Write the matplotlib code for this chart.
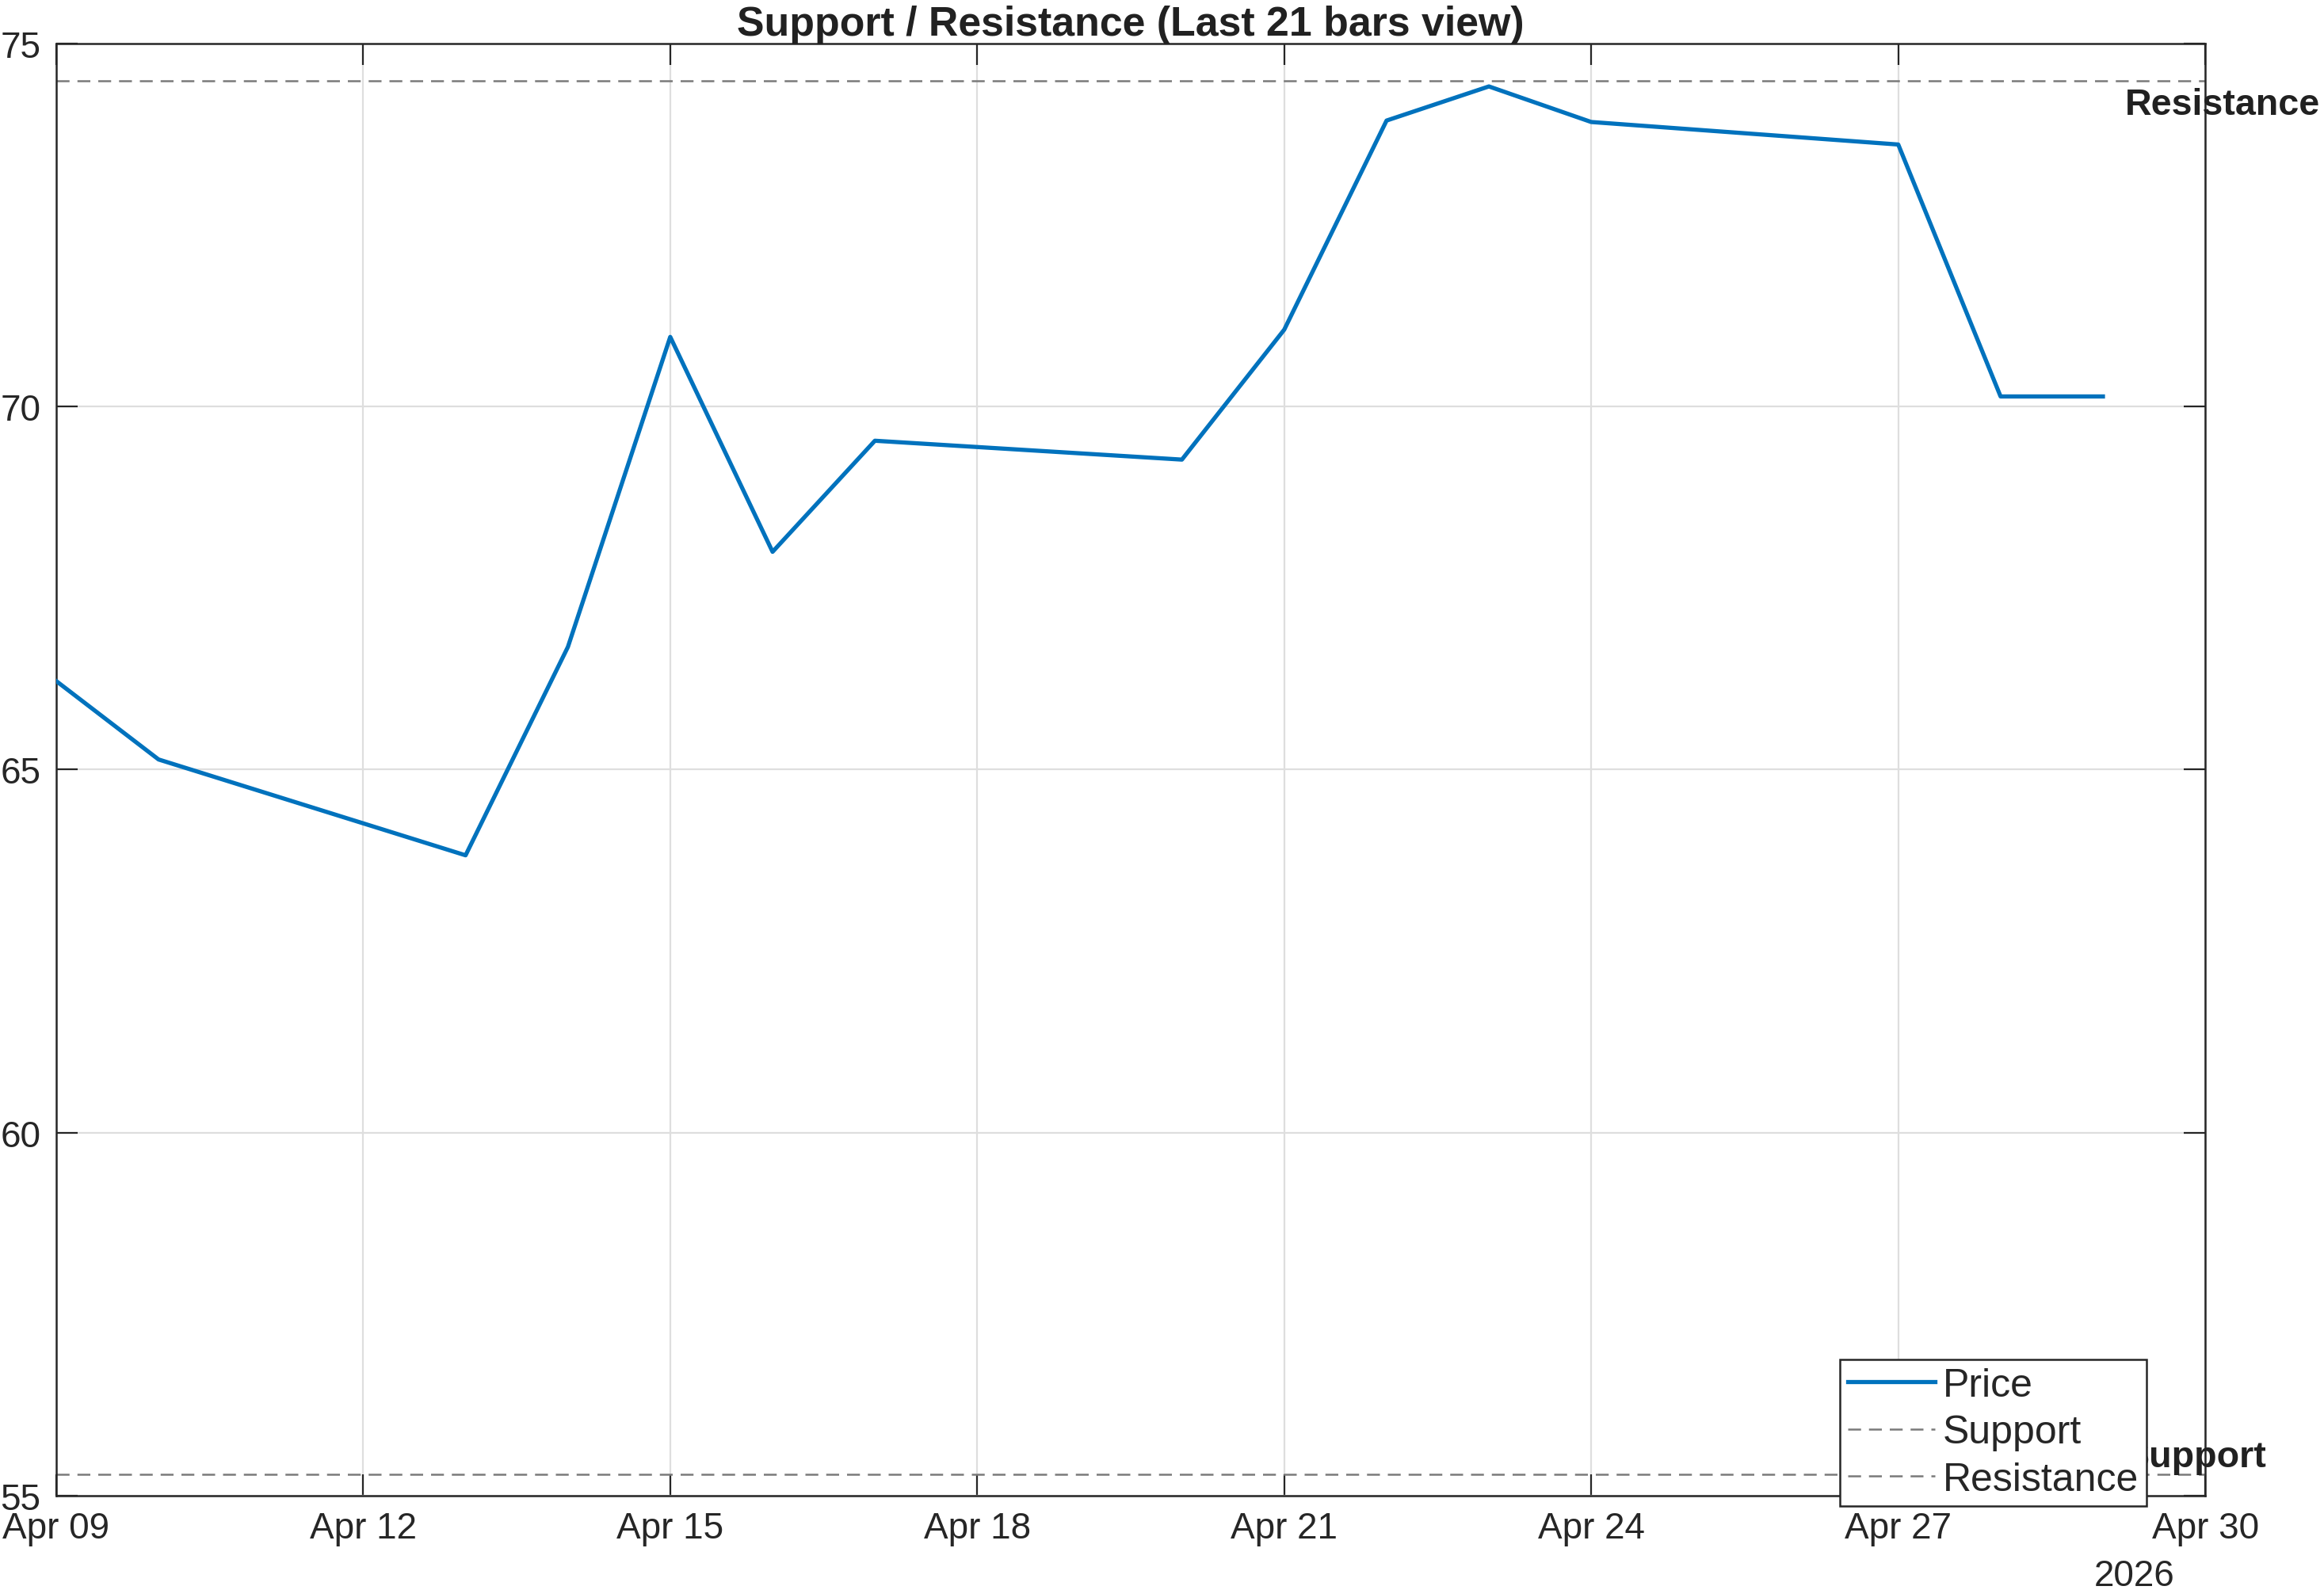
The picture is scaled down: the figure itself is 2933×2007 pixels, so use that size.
import numpy as np
import pandas as pd
import matplotlib
matplotlib.use('Agg')
import matplotlib.pyplot as plt
import matplotlib.dates as mdates

plt.rcParams['font.family'] = ['Liberation Sans', 'DejaVu Sans']

# Datos
dates = ['2026-04-09', '2026-04-10', '2026-04-13', '2026-04-14', '2026-04-15',
         '2026-04-16', '2026-04-17', '2026-04-20', '2026-04-21', '2026-04-22',
         '2026-04-23', '2026-04-24', '2026-04-27', '2026-04-28', '2026-04-29']
price = [66.22, 65.14, 63.82, 66.69, 70.96,
         68.00, 69.53, 69.27, 71.06, 73.94,
         74.41, 73.92, 73.61, 70.14, 70.14]
support = 55.29
resistance = 74.49

x_range = ['2026-04-09', '2026-04-30']
x_ticks = ['2026-04-09', '2026-04-12', '2026-04-15', '2026-04-18',
           '2026-04-21', '2026-04-24', '2026-04-27', '2026-04-30']
y_ticks = [55, 60, 65, 70, 75]
year_label = '2026'
title = 'Support / Resistance (Last 21 bars view)'

t = pd.to_datetime(dates)
xlim = pd.to_datetime(x_range)

fig = plt.figure(figsize=(2933 / 200, 2008 / 200), dpi=200)
ax = fig.add_axes([0.0242, 0.0593, 0.9247, 0.9128])

axis_col = '#262626'
ax.plot(t, price, color='#0072BD', linewidth=1.9, label='Price', zorder=3)
ax.axhline(support, color='#7a7a7a', linewidth=0.9, dashes=(6.5, 4), label='Support', zorder=2)
ax.axhline(resistance, color='#7a7a7a', linewidth=0.9, dashes=(6.5, 4), label='Resistance', zorder=2)

ax.set_xlim(xlim[0], xlim[1])
ax.set_ylim(y_ticks[0], y_ticks[-1])
ax.set_yticks(y_ticks)
ax.set_xticks(pd.to_datetime(x_ticks))
ax.xaxis.set_major_formatter(mdates.DateFormatter('%b %d'))

ax.grid(True, color='#dedede', linewidth=0.8, zorder=0)
ax.set_axisbelow(True)
for s in ax.spines.values():
    s.set_color(axis_col)
    s.set_linewidth(0.9)
ax.tick_params(direction='in', length=9.7, width=0.8, color=axis_col,
               labelcolor=axis_col, labelsize=16.5, top=True, right=True, pad=7)

ax.set_title(title, fontsize=18.7, fontweight='bold', color='#212121', pad=4)

# etiquetas de soporte / resistencia
ax.annotate('Resistance', xy=(t[-1], resistance), xytext=(10, -3), textcoords='offset points',
            ha='left', va='top', fontsize=16.8, fontweight='bold', color='#212121',
            annotation_clip=False, zorder=3)
ax.annotate('Support', xy=(t[-1], support), xytext=(10, 0), textcoords='offset points',
            ha='left', va='bottom', fontsize=16.8, fontweight='bold', color='#212121',
            annotation_clip=False, zorder=3)

ax.text(0.9856, -0.043, year_label, transform=ax.transAxes, ha='right', va='top',
        fontsize=16.5, color=axis_col)

leg = ax.legend(loc='lower right', bbox_to_anchor=(0.9727, -0.0071), fontsize=18,
                frameon=True, fancybox=False, shadow=False, framealpha=1,
                edgecolor=axis_col, borderpad=0.2, labelspacing=0.27,
                handlelength=2.2, handletextpad=0.2, borderaxespad=0)
leg.get_frame().set_linewidth(0.9)
for txt in leg.get_texts():
    txt.set_color(axis_col)

fig.savefig('out.png', dpi=200)
